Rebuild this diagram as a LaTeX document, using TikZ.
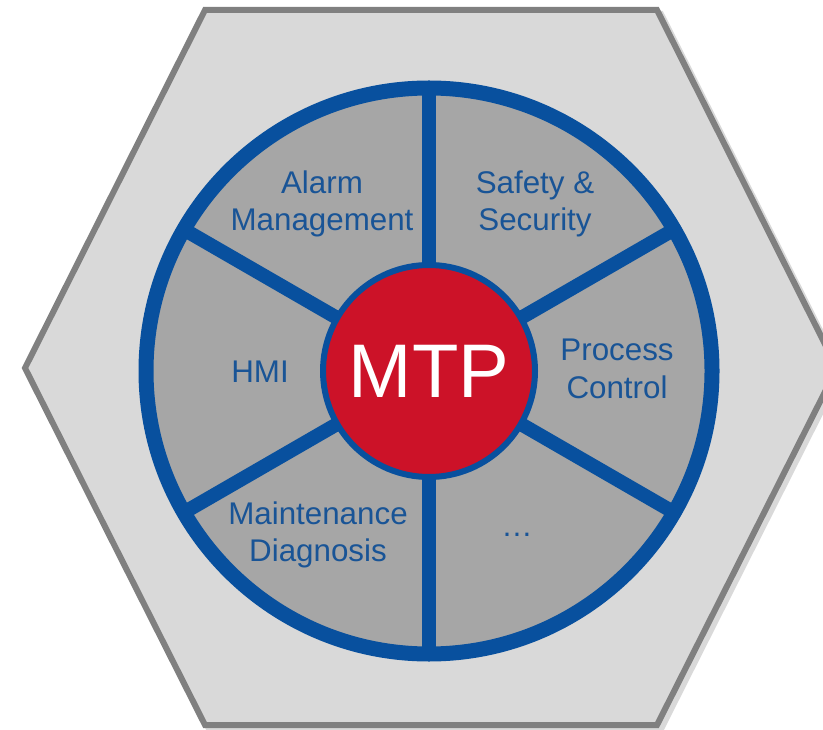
\documentclass[tikz,border=0pt]{standalone}
\usepackage{fontspec}
\setmainfont{Liberation Sans}
\usetikzlibrary{calc}
\definecolor{hexfill}{RGB}{217,217,217}
\definecolor{hexline}{RGB}{128,128,128}
\definecolor{segfill}{RGB}{166,166,166}
\definecolor{ringblue}{RGB}{8,80,158}
\definecolor{txtblue}{RGB}{25,84,150}
\definecolor{mtpred}{RGB}{204,18,40}
\begin{document}
\begin{tikzpicture}[x=0.75pt,y=-0.75pt,
  lbl/.style={align=center,text=txtblue,font=\fontsize{23.5}{28}\selectfont,inner sep=0pt},
  spoke/.style={draw=ringblue,line width=10.5pt}]
\useasboundingbox (0,0) rectangle (823,730);
% shadow and hexagon
\draw[black,opacity=0.15,line width=4.5pt,line join=miter] (209,14) -- (661,14) -- (841,372) -- (661,729) -- (209,729) -- (29,372) -- cycle;
\filldraw[fill=hexfill,draw=hexline,line width=4.5pt,line join=miter]
  (205,10) -- (657,10) -- (837,368) -- (657,725) -- (205,725) -- (25,368) -- cycle;
% wheel
\coordinate (c) at (429,371);
\fill[segfill] (c) circle[radius=283*0.75pt];
\foreach \a/\n in {90/s1,30/s2,-30/s3,-90/s4,-150/s5,150/s6}{
  \coordinate (\n) at ($(c)+(\a:283*0.75pt)$);
}
\foreach \n in {s1,s2,s3,s4,s5,s6}{ \draw[spoke] (c) -- (\n); }
\draw[ringblue,line width=11.25pt] (c) circle[radius=283*0.75pt];
\node[circle,fill=mtpred,draw=ringblue,line width=4.5pt,minimum size=212*0.75pt,inner sep=0pt,
  text=white,font=\fontsize{57}{60}\selectfont] (mtp) at (c) {MTP};
% labels
\node[lbl] (alarm) at (322,204) {Alarm\\Management};
\node[lbl] (safety) at (535,204) {Safety \&\\Security};
\node[lbl] (proc) at (617,369) {Process\\Control};
\node[lbl] (hmi) at (260,372) {HMI};
\node[lbl] (maint) at (318,535) {Maintenance\\Diagnosis};
\node[lbl] (dots) at (517,535) {…};
\end{tikzpicture}
\end{document}
